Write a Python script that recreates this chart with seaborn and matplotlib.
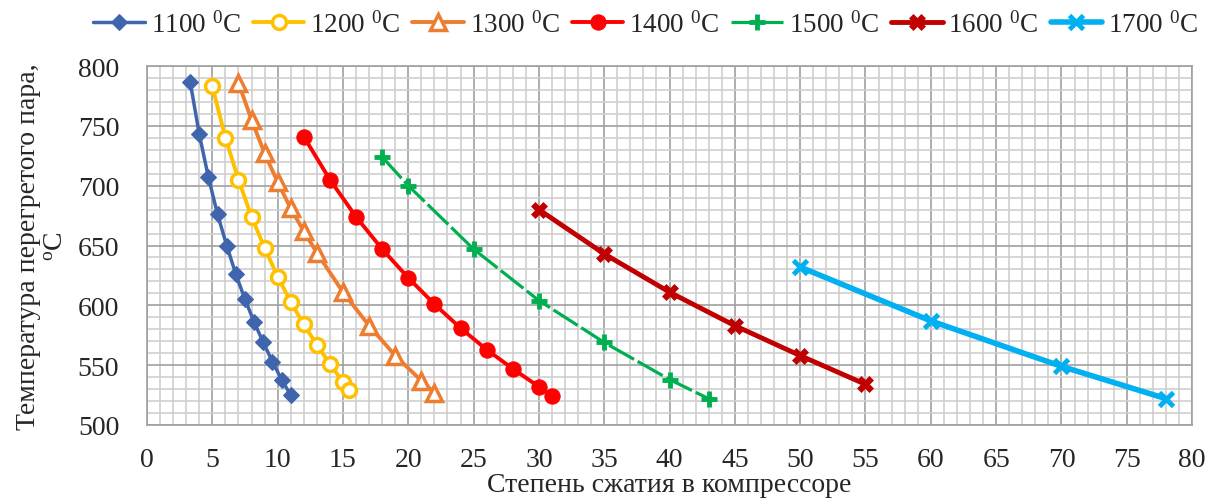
import numpy as np
import pandas as pd
import matplotlib
matplotlib.use("Agg")
import matplotlib.pyplot as plt
import seaborn as sns

# степень сжатия / температура перегретого пара для каждой температуры газа
x_1100 = [3.3, 4.0, 4.7, 5.4, 6.1, 6.8, 7.5, 8.2, 8.9, 9.6, 10.3, 11.0]
y_1100 = [787, 743, 707, 676, 650, 626, 605, 586, 569, 553, 538, 525]

x_1200 = [5, 6, 7, 8, 9, 10, 11, 12, 13, 14, 15, 15.5]
y_1200 = [783, 740, 705, 674, 648, 624, 603, 584, 567, 551, 536, 529]

x_1300 = [7, 8, 9, 10, 11, 12, 13, 15, 17, 19, 21, 22]
y_1300 = [786, 755, 727, 703, 681, 662, 644, 611, 583, 558, 537, 527]

x_1400 = [12, 14, 16, 18, 20, 22, 24, 26, 28, 30, 31]
y_1400 = [741, 705, 674, 647, 623, 601, 581, 563, 547, 532, 524]

x_1500 = [18, 20, 25, 30, 35, 40, 43]
y_1500 = [724, 700, 647, 604, 569, 538, 522]

x_1600 = [30, 35, 40, 45, 50, 55]
y_1600 = [680, 643, 611, 583, 558, 534]

x_1700 = [50, 60, 70, 78]
y_1700 = [632, 587, 549, 522]

labels = ["1100", "1200", "1300", "1400", "1500", "1600", "1700"]

sns.set_style("white")
plt.rcParams["font.family"] = ["Liberation Serif", "DejaVu Serif"]
plt.rcParams["mathtext.fontset"] = "custom"
plt.rcParams["mathtext.rm"] = "Liberation Serif"

fig, ax = plt.subplots(figsize=(12.09, 5.02), dpi=100)
fig.subplots_adjust(left=0.1216, right=0.986, top=0.8665, bottom=0.1514)

styles = [
    dict(color="#3F65AD", marker="D", markersize=8.5, markerfacecolor="#3F65AD",
         markeredgecolor="#3F65AD", linewidth=2.5),
    dict(color="#FFC000", marker="o", markersize=10, markerfacecolor="white",
         markeredgecolor="#FFC000", markeredgewidth=2.5, linewidth=2.8),
    dict(color="#ED7D31", marker="^", markersize=11, markerfacecolor="white",
         markeredgecolor="#ED7D31", markeredgewidth=2.5, linewidth=2.8),
    dict(color="#FF0000", marker="o", markersize=11, markerfacecolor="#FF0000",
         markeredgecolor="#FF0000", linewidth=2.8),
    dict(color="#00B050", marker="+", markersize=12, markeredgecolor="#00B050",
         markeredgewidth=3.5, linewidth=2.3, dashes=(9, 1.3)),
    dict(color="#C00000", marker="X", markersize=11, markerfacecolor="#C00000",
         markeredgecolor="#C00000", markeredgewidth=0.5, linewidth=3.5),
    dict(color="#00B0F0", marker="x", markersize=10, markeredgecolor="#00B0F0",
         markeredgewidth=3.5, linewidth=4),
]

series = [(x_1100, y_1100), (x_1200, y_1200), (x_1300, y_1300), (x_1400, y_1400),
          (x_1500, y_1500), (x_1600, y_1600), (x_1700, y_1700)]

for (xs, ys), lab, st in zip(series, labels, styles):
    st = dict(st)
    dashes = st.pop("dashes", None)
    sns.lineplot(x=xs, y=ys, ax=ax, sort=False, estimator=None,
                 label=lab + r" $\mathregular{^0}$C", zorder=3, **st)
    if dashes is not None:
        ax.lines[-1].set_dashes(dashes)

ax.set_xlim(0, 80)
ax.set_ylim(500, 800)
ax.set_xticks(np.arange(0, 81, 5))
ax.set_yticks(np.arange(500, 801, 50))
ax.set_xticks(np.arange(0, 81, 1), minor=True)
ax.set_yticks(np.arange(500, 801, 10), minor=True)
ax.grid(which="minor", color="#CFCFCF", linewidth=1.2, zorder=0)
ax.grid(which="major", color="#A0A0A0", linewidth=1.2, zorder=1)
ax.set_axisbelow(True)
ax.tick_params(which="major", direction="out", length=6, width=1.2,
               color="#A0A0A0", labelsize=20)
ax.tick_params(axis="x", pad=9.5)
ax.tick_params(axis="y", pad=14)
ax.tick_params(which="minor", length=0)
for sp in ax.spines.values():
    sp.set_color("#A0A0A0")
    sp.set_linewidth(1.2)

ax.set_xlabel("Степень сжатия в компрессоре", fontsize=20, labelpad=0)
ax.set_ylabel("Температура перегретого пара,\n$\\mathregular{^o}$C", fontsize=20,
              labelpad=6, linespacing=1.2)

ax.legend(loc="center", bbox_to_anchor=(0.534, 0.95), bbox_transform=fig.transFigure,
          ncol=7, frameon=False, fontsize=19.5, handlelength=1.9, handletextpad=0.22,
          columnspacing=0.45, borderaxespad=0)

fig.savefig("out.png", dpi=100)
